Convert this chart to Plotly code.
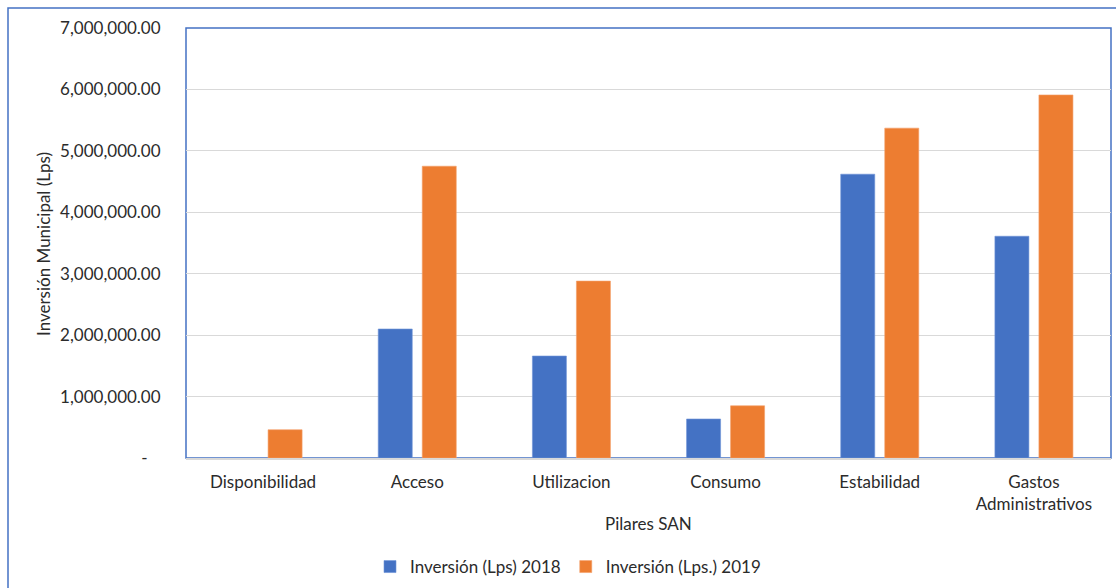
import plotly.graph_objects as go

categories = ["Disponibilidad", "Acceso", "Utilizacion", "Consumo", "Estabilidad", "Gastos<br>Administrativos"]
inv_2018 = [0, 2100000, 1660000, 635000, 4620000, 3610000]
inv_2019 = [460000, 4750000, 2880000, 850000, 5370000, 5910000]
tick_vals = [0, 1000000, 2000000, 3000000, 4000000, 5000000, 6000000, 7000000]
tick_text = ["-\u00a0\u00a0\u00a0", "1,000,000.00", "2,000,000.00", "3,000,000.00", "4,000,000.00",
             "5,000,000.00", "6,000,000.00", "7,000,000.00"]

BLUE = "#4472C4"
ORANGE = "#ED7D31"
TXT = "#2b2b2b"
FONT = "Lato"
FS = 17

fig = go.Figure()
fig.add_trace(go.Bar(x=categories, y=inv_2018, name="Inversión (Lps) 2018",
                     marker=dict(color=BLUE, line=dict(color="#6f93d6", width=0.6))))
fig.add_trace(go.Bar(x=categories, y=inv_2019, name="Inversión (Lps.) 2019",
                     marker=dict(color=ORANGE, line=dict(color="#f3a06a", width=0.6))))

L, R, T, B = 186, 5, 28, 130
W, H = 1116, 588
pw = W - L - R
ph = H - T - B

fig.update_layout(
    width=W, height=H,
    margin=dict(l=L, r=R, t=T, b=B, autoexpand=False),
    paper_bgcolor="white", plot_bgcolor="white",
    font=dict(family=FONT, size=FS, color=TXT),
    barmode="group", bargap=0.429, bargroupgap=0.227,
    showlegend=True,
    legend=dict(orientation="h", x=(568 - L) / pw, xanchor="center",
                y=(458 - 567) / ph, yanchor="middle",
                font=dict(family=FONT, size=FS, color=TXT),
                itemwidth=30, traceorder="normal", bgcolor="rgba(0,0,0,0)"),
    xaxis=dict(showgrid=False, showline=True, linecolor="#D9D9D9", linewidth=1.5,
               tickfont=dict(family=FONT, size=FS, color=TXT), ticks="outside",
               ticklen=8, tickcolor="rgba(0,0,0,0)", automargin=False),
    yaxis=dict(range=[0, 7000000], tickvals=tick_vals, ticktext=tick_text,
               showgrid=True, gridcolor="#D9D9D9", gridwidth=1,
               zeroline=False, showline=False,
               tickfont=dict(family=FONT, size=FS, color=TXT), ticks="outside",
               ticklen=21, tickcolor="rgba(0,0,0,0)", automargin=False),
    shapes=[
        dict(type="rect", xref="paper", yref="paper", x0=0, x1=1, y0=0, y1=1,
             line=dict(color=BLUE, width=1.5), fillcolor="rgba(0,0,0,0)", layer="below"),
        dict(type="rect", xref="paper", yref="paper",
             x0=(8 - L) / pw, x1=(1130 - L) / pw, y0=(458 - 620) / ph, y1=1 + (28 - 8) / ph,
             line=dict(color=BLUE, width=1.5), fillcolor="rgba(0,0,0,0)", layer="below"),
    ],
    annotations=[
        dict(text="Inversión Municipal (Lps)", xref="paper", yref="paper",
             x=(43 - L) / pw, y=(458 - 244) / ph, textangle=-90, showarrow=False,
             xanchor="center", yanchor="middle", font=dict(family=FONT, size=FS, color=TXT)),
        dict(text="Pilares SAN", xref="paper", yref="paper",
             x=(648 - L) / pw, y=(458 - 523) / ph, showarrow=False,
             xanchor="center", yanchor="middle", font=dict(family=FONT, size=FS, color=TXT)),
    ],
)

fig.write_html("out.html")
